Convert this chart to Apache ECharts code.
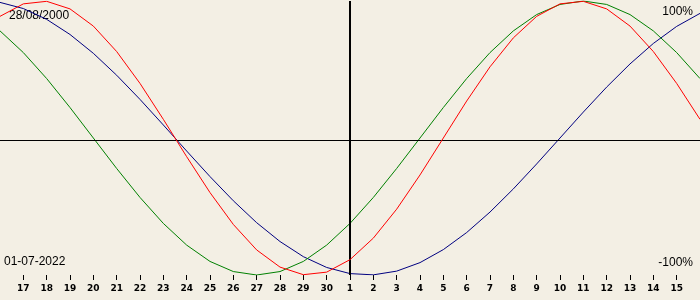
<!DOCTYPE html>
<html><head><meta charset="utf-8">
<script src="https://cdn.jsdelivr.net/npm/echarts@6/dist/echarts.min.js"></script>
<style>html,body{margin:0;padding:0;background:#f3efe4;}#c{width:700px;height:300px;}</style>
</head><body><div id="c"></div>
<script>
// day offsets relative to 01-07-2022
var days = [-15,-14,-13,-12,-11,-10,-9,-8,-7,-6,-5,-4,-3,-2,-1,0,1,2,3,4,5,6,7,8,9,10,11,12,13,14,15];
var tickDays = [-14,-13,-12,-11,-10,-9,-8,-7,-6,-5,-4,-3,-2,-1,0,1,2,3,4,5,6,7,8,9,10,11,12,13,14];
var tickLabels = ['17','18','19','20','21','22','23','24','25','26','27','28','29','30','1','2','3','4','5','6','7','8','9','10','11','12','13','14','15'];
var physical = [0.8879,0.9791,0.9977,0.9423,0.8170,0.6311,0.3984,0.1362,-0.1362,-0.3984,-0.6311,-0.8170,-0.9423,-0.9977,-0.9791,-0.8879,-0.7308,-0.5196,-0.2698,0,0.2698,0.5196,0.7308,0.8879,0.9791,0.9977,0.9423,0.8170,0.6311,0.3984,0.1362];
var emotional = [0.7818,0.6235,0.4339,0.2225,0,-0.2225,-0.4339,-0.6235,-0.7818,-0.9010,-0.9749,-1,-0.9749,-0.9010,-0.7818,-0.6235,-0.4339,-0.2225,0,0.2225,0.4339,0.6235,0.7818,0.9010,0.9749,1,0.9749,0.9010,0.7818,0.6235,0.4339];
var intellectual = [0.9898,0.9450,0.8660,0.7557,0.6182,0.4582,0.2817,0.0951,-0.0951,-0.2817,-0.4582,-0.6182,-0.7557,-0.8660,-0.9450,-0.9898,-0.9989,-0.9718,-0.9096,-0.8146,-0.6901,-0.5406,-0.3717,-0.1893,0,0.1893,0.3717,0.5406,0.6901,0.8146,0.9096];
var birthText = '28/08/2000';
var dateText = '01-07-2022';
var topText = '100%';
var bottomText = '-100%';

function pairs(vals){ return days.map(function(d,i){ return [d, vals[i]]; }); }
var labelMap = {};
tickDays.forEach(function(d,i){ labelMap[d] = tickLabels[i]; });

var chart = echarts.init(document.getElementById('c'), null, {renderer:'canvas'});
var font = 'Liberation Sans, Arial, sans-serif';
chart.setOption({
  backgroundColor: '#f3efe4',
  animation: false,
  grid: {left: 0, right: 0, top: 1, bottom: 25},
  xAxis: {
    type: 'value', min: -15, max: 15, interval: 1,
    axisLine: {show: false, onZero: false},
    splitLine: {show: false},
    axisTick: {show: true, length: 5, customValues: tickDays, lineStyle: {color: '#000', width: 1}},
    axisLabel: {show: true, customValues: tickDays, margin: 9, color: '#000', fontSize: 9, fontWeight: 'bold', fontFamily: 'DejaVu Sans, sans-serif',
      formatter: function(v){ return labelMap[v] || ''; }}
  },
  yAxis: {
    type: 'value', min: -1, max: 1,
    axisLine: {show: false}, axisTick: {show: false}, axisLabel: {show: false}, splitLine: {show: false}
  },
  series: [
    {type: 'line', data: pairs(intellectual), symbol: 'none', lineStyle: {color: '#000080', width: 1}, z: 3,
     markLine: {silent: true, symbol: 'none', label: {show: false}, lineStyle: {color: '#000', type: 'solid'},
       data: [{xAxis: 0, lineStyle: {width: 2}}, {yAxis: -0.01825, lineStyle: {width: 1}}]}},
    {type: 'line', data: pairs(emotional), symbol: 'none', lineStyle: {color: '#008000', width: 1}, z: 4},
    {type: 'line', data: pairs(physical), symbol: 'none', lineStyle: {color: '#ff0000', width: 1}, z: 5}
  ],
  graphic: [
    {type: 'text', left: 9, top: 10, style: {text: birthText, font: '12px ' + font, fill: '#000'}},
    {type: 'text', left: 4, top: 256, style: {text: dateText, font: '12px ' + font, fill: '#000'}},
    {type: 'text', right: 7, top: 6, style: {text: topText, font: '12px ' + font, fill: '#000'}},
    {type: 'text', right: 7, top: 257, style: {text: bottomText, font: '12px ' + font, fill: '#000'}}
  ]
});
</script></body></html>
